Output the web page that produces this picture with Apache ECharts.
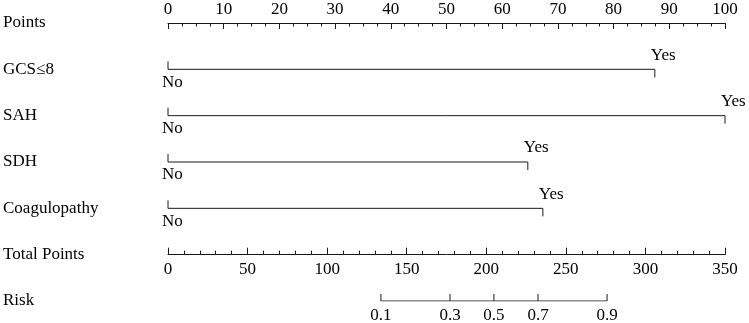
<!DOCTYPE html>
<html>
<head>
<meta charset="utf-8">
<script src="https://cdn.jsdelivr.net/npm/echarts@6/dist/echarts.min.js"></script>
<style>
  html, body { margin: 0; padding: 0; background: #fff; }
  #main { width: 749px; height: 323px; }
</style>
</head>
<body>
<div id="main"></div>
<script>
// row names, top to bottom
var rowNames = ['Points', 'GCS≤8', 'SAH', 'SDH', 'Coagulopathy', 'Total Points', 'Risk'];
// categorical predictors: points for "No" and "Yes"
var varRows = [1, 2, 3, 4];
var noPoints = [0, 0, 0, 0];
var yesPoints = [87.4, 100, 64.6, 67.3];
var noLabel = 'No';
var yesLabel = 'Yes';
// risk scale, position read on total points axis
var riskLabels = ['0.1', '0.3', '0.5', '0.7', '0.9'];
var riskPoints = [133.8, 177.2, 204.8, 232.5, 275.9];

var font = 'Liberation Serif';
var fsize = 17;
var ink = '#1a1a1a';

var myChart = echarts.init(document.getElementById('main'));

var varData = [];
for (var i = 0; i < varRows.length; i++) {
    varData.push([varRows[i], noPoints[i], yesPoints[i]]);
}
var riskData = [];
for (var j = 0; j < riskPoints.length; j++) {
    riskData.push([riskPoints[j], 6, riskLabels[j]]);
}
var textFont = fsize + 'px "' + font + '"';

var option = {
    animation: false,
    grid: [
        { left: 168, right: 24, top: 23, bottom: 22 },
        { left: 168, right: 24, top: 23, height: 231.7 }
    ],
    xAxis: [
        {
            gridIndex: 0, type: 'value', position: 'top',
            min: 0, max: 100, interval: 10,
            axisLine: { show: true, lineStyle: { color: ink, width: 1 } },
            axisTick: { show: true, inside: true, length: 6, lineStyle: { color: ink } },
            minorTick: { show: true, splitNumber: 4, length: 3.5, lineStyle: { color: ink } },
            axisLabel: { margin: 5, color: '#000', fontFamily: font, fontSize: fsize },
            splitLine: { show: false }
        },
        {
            gridIndex: 0, type: 'value', min: 0, max: 350, show: false
        },
        {
            gridIndex: 1, type: 'value', position: 'bottom',
            min: 0, max: 350, interval: 50,
            axisLine: { show: true, lineStyle: { color: ink, width: 1 } },
            axisTick: { show: true, inside: true, length: 7, lineStyle: { color: ink } },
            minorTick: { show: true, splitNumber: 5, length: 4, lineStyle: { color: ink } },
            axisLabel: { margin: 6, color: '#000', fontFamily: font, fontSize: fsize },
            splitLine: { show: false }
        }
    ],
    yAxis: [
        {
            gridIndex: 0, type: 'value', inverse: true,
            min: 0, max: 6, interval: 1,
            axisLine: { show: false }, axisTick: { show: false }, splitLine: { show: false },
            axisLabel: {
                show: true, align: 'left', margin: 165,
                showMinLabel: true, showMaxLabel: true,
                color: '#000', fontFamily: font, fontSize: fsize,
                formatter: function (v) { return rowNames[v] || ''; }
            }
        },
        { gridIndex: 1, type: 'value', show: false }
    ],
    series: [
        {
            // predictor rows
            type: 'custom',
            xAxisIndex: 0, yAxisIndex: 0,
            clip: false,
            data: varData,
            renderItem: function (params, api) {
                var row = api.value(0);
                var p0 = api.coord([api.value(1), row]);
                var p1 = api.coord([api.value(2), row]);
                var st = { stroke: ink, lineWidth: 1 };
                return {
                    type: 'group',
                    children: [
                        { type: 'line', shape: { x1: p0[0], y1: p0[1], x2: p1[0], y2: p1[1] }, style: st },
                        { type: 'line', shape: { x1: p0[0], y1: p0[1] - 8, x2: p0[0], y2: p0[1] }, style: st },
                        { type: 'line', shape: { x1: p1[0], y1: p1[1], x2: p1[0], y2: p1[1] + 8 }, style: st },
                        { type: 'text', x: p0[0] - 6, y: p0[1] + 13,
                          style: { text: noLabel, fill: '#000', font: textFont, align: 'left', verticalAlign: 'middle' } },
                        { type: 'text', x: p1[0] - 4, y: p1[1] - 14,
                          style: { text: yesLabel, fill: '#000', font: textFont, align: 'left', verticalAlign: 'middle' } }
                    ]
                };
            }
        },
        {
            // risk axis line
            type: 'line',
            xAxisIndex: 1, yAxisIndex: 0,
            symbol: 'none',
            lineStyle: { color: ink, width: 1 },
            data: [[riskPoints[0], 6], [riskPoints[riskPoints.length - 1], 6]]
        },
        {
            // risk ticks and labels
            type: 'custom',
            xAxisIndex: 1, yAxisIndex: 0,
            clip: false,
            data: riskData,
            renderItem: function (params, api) {
                var p = api.coord([api.value(0), api.value(1)]);
                return {
                    type: 'group',
                    children: [
                        { type: 'line', shape: { x1: p[0], y1: p[1] - 7, x2: p[0], y2: p[1] }, style: { stroke: ink, lineWidth: 1 } },
                        { type: 'text', x: p[0], y: p[1] + 15,
                          style: { text: riskLabels[params.dataIndex], fill: '#000', font: textFont, align: 'center', verticalAlign: 'middle' } }
                    ]
                };
            }
        }
    ]
};

myChart.setOption(option);
</script>
</body>
</html>
